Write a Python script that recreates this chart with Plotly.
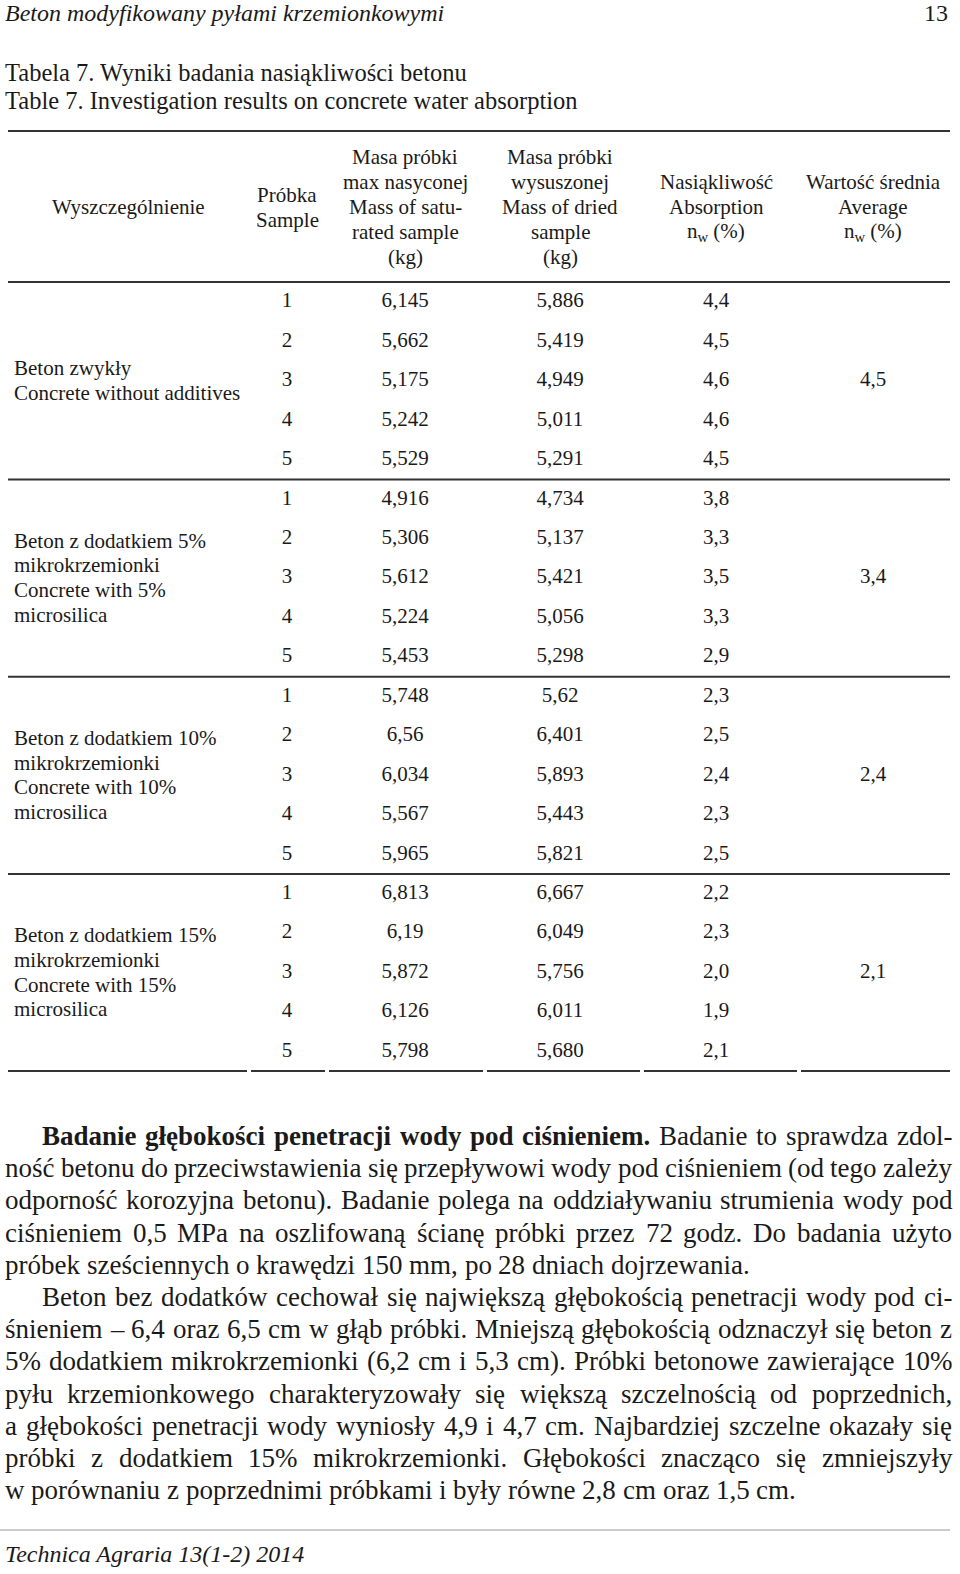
import plotly.graph_objects as go

# table data (values as printed, Polish decimal comma)
groups = [
    ['Beton zwykły', 'Concrete without additives'],
    ['Beton z dodatkiem 5%', 'mikrokrzemionki', 'Concrete with 5%', 'microsilica'],
    ['Beton z dodatkiem 10%', 'mikrokrzemionki', 'Concrete with 10%', 'microsilica'],
    ['Beton z dodatkiem 15%', 'mikrokrzemionki', 'Concrete with 15%', 'microsilica'],
]
samples = ['1', '2', '3', '4', '5'] * 4
mass_saturated = ['6,145', '5,662', '5,175', '5,242', '5,529',
                  '4,916', '5,306', '5,612', '5,224', '5,453',
                  '5,748', '6,56', '6,034', '5,567', '5,965',
                  '6,813', '6,19', '5,872', '6,126', '5,798']
mass_dried = ['5,886', '5,419', '4,949', '5,011', '5,291',
              '4,734', '5,137', '5,421', '5,056', '5,298',
              '5,62', '6,401', '5,893', '5,443', '5,821',
              '6,667', '6,049', '5,756', '6,011', '5,680']
absorption = ['4,4', '4,5', '4,6', '4,6', '4,5',
              '3,8', '3,3', '3,5', '3,3', '2,9',
              '2,3', '2,5', '2,4', '2,3', '2,5',
              '2,2', '2,3', '2,0', '1,9', '2,1']
average = ['4,5', '3,4', '2,4', '2,1']

headers = [
    ['Wyszczególnienie'],
    ['Próbka', 'Sample'],
    ['Masa próbki', 'max nasyconej', 'Mass of satu-', 'rated sample', '(kg)'],
    ['Masa próbki', 'wysuszonej', 'Mass of dried', 'sample', '(kg)'],
    ['Nasiąkliwość', 'Absorption', 'n<sub>w</sub> (%)'],
    ['Wartość średnia', 'Average', 'n<sub>w</sub> (%)'],
]

paragraph = [
    'Badanie głębokości penetracji wody pod ciśnieniem. Badanie to sprawdza zdol-',
    'ność betonu do przeciwstawienia się przepływowi wody pod ciśnieniem (od tego zależy',
    'odporność korozyjna betonu). Badanie polega na oddziaływaniu strumienia wody pod',
    'ciśnieniem 0,5 MPa na oszlifowaną ścianę próbki przez 72 godz. Do badania użyto',
    'próbek sześciennych o krawędzi 150 mm, po 28 dniach dojrzewania.',
    'Beton bez dodatków cechował się największą głębokością penetracji wody pod ci-',
    'śnieniem – 6,4 oraz 6,5 cm w głąb próbki. Mniejszą głębokością odznaczył się beton z',
    '5% dodatkiem mikrokrzemionki (6,2 cm i 5,3 cm). Próbki betonowe zawierające 10%',
    'pyłu krzemionkowego charakteryzowały się większą szczelnością od poprzednich,',
    'a głębokości penetracji wody wyniosły 4,9 i 4,7 cm. Najbardziej szczelne okazały się',
    'próbki z dodatkiem 15% mikrokrzemionki. Głębokości znacząco się zmniejszyły',
    'w porównaniu z poprzednimi próbkami i były równe 2,8 cm oraz 1,5 cm.',
]
indented = [0, 5]
last_lines = [4, 11]
bold_words = {0: 6}

FONT = 'Liberation Serif'
INK = '#1a1a1a'
BODY = 27

# Times/Liberation Serif advance widths (1/1000 em) for justifying the paragraph
W_REG = dict(zip('abcdefghijklmnopqrstuvwxyz', [444, 500, 444, 500, 444, 333, 500, 500, 278, 278, 500, 278, 778,
                                                  500, 500, 500, 500, 333, 389, 278, 500, 500, 722, 500, 500, 444]))
W_REG.update({'ą': 444, 'ć': 444, 'ę': 444, 'ł': 278, 'ń': 500, 'ó': 500, 'ś': 389, 'ź': 444, 'ż': 444,
              'B': 667, 'D': 722, 'G': 722, 'M': 889, 'N': 722, 'P': 556, ',': 250, '.': 250, '(': 333,
              ')': 333, '%': 833, '-': 333, '–': 500})
W_REG.update({d: 500 for d in '0123456789'})
W_BOLD = dict(zip('abcdefghijklmnopqrstuvwxyz', [500, 556, 444, 556, 444, 333, 500, 556, 278, 333, 556, 278, 833,
                                                   556, 500, 556, 556, 444, 389, 333, 556, 500, 722, 500, 500, 444]))
W_BOLD.update({'ą': 500, 'ę': 444, 'ł': 278, 'ś': 389, 'ć': 444, 'B': 667, '.': 250})


def word_width(w, bold):
    table = W_BOLD if bold else W_REG
    return sum(table.get(ch, 500) for ch in w) * BODY / 1000


col_x = [12, 287, 405, 560, 716, 873]
row0, row_step = 302, 39.45
rows_y = [row0 + row_step * i for i in range(len(samples))]

fig = go.Figure()

# table body columns
for cx, col in zip(col_x[1:5], [samples, mass_saturated, mass_dried, absorption]):
    fig.add_trace(go.Scatter(x=[cx] * len(col), y=rows_y, text=col, mode='text',
                             textposition='middle center',
                             textfont=dict(family=FONT, size=21, color=INK),
                             hoverinfo='skip', showlegend=False))

mid_rows = [rows_y[5 * g + 2] for g in range(len(groups))]
fig.add_trace(go.Scatter(x=[col_x[5]] * len(average), y=mid_rows, text=average, mode='text',
                         textposition='middle center',
                         textfont=dict(family=FONT, size=21, color=INK),
                         hoverinfo='skip', showlegend=False))

annotations = []
for g, label in enumerate(groups):
    n = len(label)
    for k, line in enumerate(label):
        annotations.append(dict(x=col_x[0], y=mid_rows[g] - 0.5 + 24.7 * (k - (n - 1) / 2), text=line,
                                xanchor='left', yanchor='middle',
                                font=dict(family=FONT, size=21, color=INK)))

for i, h in enumerate(headers):
    n = len(h)
    for k, line in enumerate(h):
        annotations.append(dict(x=col_x[i] + (116 if i == 0 else 0), y=207 + 25 * (k - (n - 1) / 2),
                                text=line, xanchor='center', yanchor='middle',
                                font=dict(family=FONT, size=21, color=INK)))

# page header / footer / titles
annotations += [
    dict(x=3, y=13, text='<i>Beton modyfikowany pyłami krzemionkowymi</i>', xanchor='left',
         yanchor='middle', font=dict(family=FONT, size=24, color=INK)),
    dict(x=950, y=13, text='13', xanchor='right', yanchor='middle',
         font=dict(family=FONT, size=24, color=INK)),
    dict(x=3, y=72, text='Tabela 7. Wyniki badania nasiąkliwości betonu', xanchor='left',
         yanchor='middle', font=dict(family=FONT, size=24.5, color=INK)),
    dict(x=3, y=100, text='Table 7. Investigation results on concrete water absorption', xanchor='left',
         yanchor='middle', font=dict(family=FONT, size=24.5, color=INK)),
    dict(x=3, y=1554, text='<i>Technica Agraria 13(1-2) 2014</i>', xanchor='left',
         yanchor='middle', font=dict(family=FONT, size=24, color=INK)),
]

# justified paragraph, word by word
for i, line in enumerate(paragraph):
    words = line.split(' ')
    nb = bold_words.get(i, 0)
    widths = [word_width(w, j < nb) for j, w in enumerate(words)]
    left = 40 if i in indented else 3
    if i in last_lines:
        gap = 0.25 * BODY
    else:
        gap = (950 - left - sum(widths)) / (len(words) - 1)
    cur = left
    for j, w in enumerate(words):
        annotations.append(dict(x=cur, y=1136 + 32.2 * i, text=f'<b>{w}</b>' if j < nb else w,
                                xanchor='left', yanchor='middle',
                                font=dict(family=FONT, size=BODY, color=INK)))
        cur += widths[j] + gap

for a in annotations:
    a.update(xref='x', yref='y', showarrow=False)

shapes = []
for y in [131, 282] + [(rows_y[5 * g - 1] + rows_y[5 * g]) / 2 for g in range(1, 4)]:
    shapes.append(dict(type='line', x0=8, x1=950, y0=y, y1=y, xref='x', yref='y',
                       line=dict(color='#333333', width=2)))
for x0, x1 in [(8, 247), (251, 325), (329, 483), (487, 640), (644, 797), (801, 950)]:
    shapes.append(dict(type='line', x0=x0, x1=x1, y0=1071, y1=1071, xref='x', yref='y',
                       line=dict(color='#333333', width=2)))
shapes.append(dict(type='line', x0=0, x1=950, y0=1530, y1=1530, xref='x', yref='y',
                   line=dict(color='#999999', width=1)))

fig.update_layout(
    width=960, height=1574,
    margin=dict(l=0, r=0, t=0, b=0),
    paper_bgcolor='white', plot_bgcolor='white',
    xaxis=dict(range=[0, 960], visible=False, fixedrange=True),
    yaxis=dict(range=[1574, 0], visible=False, fixedrange=True),
    annotations=annotations,
    shapes=shapes,
    showlegend=False,
)

# drop the default 8px page margin so axis units equal page pixels
fig.write_html('out.html', config={'displayModeBar': False},
               post_script="document.body.style.margin='0';")
